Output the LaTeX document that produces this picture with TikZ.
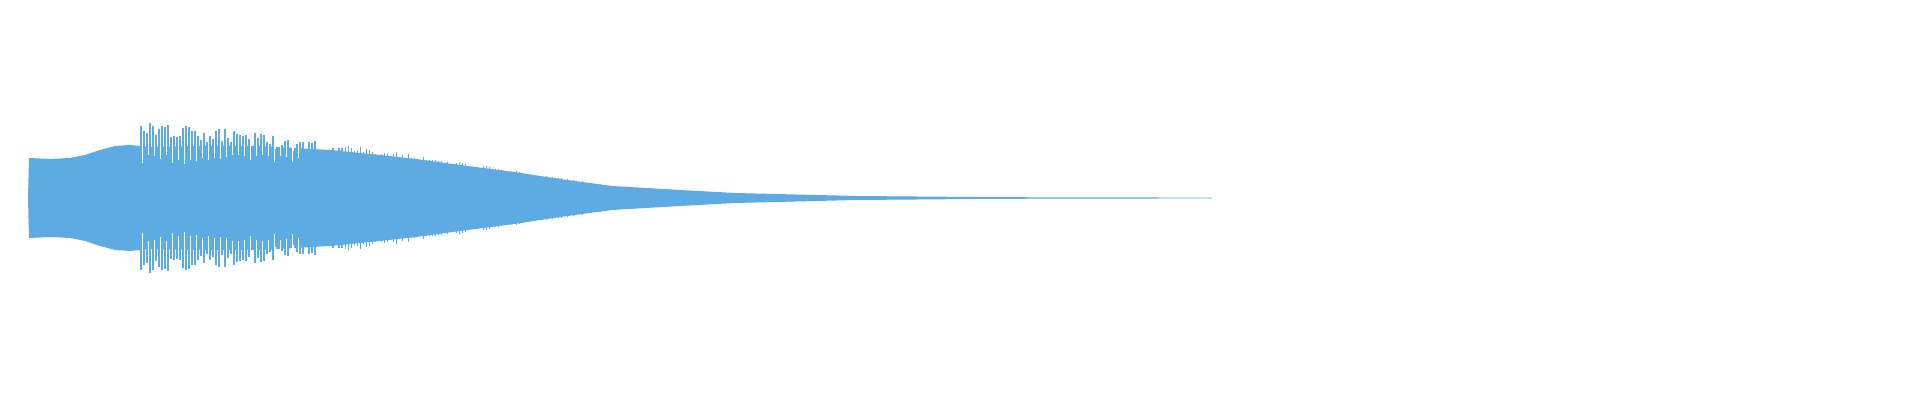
\documentclass[tikz,border=0pt]{standalone}
\definecolor{wave}{HTML}{5DABE2}
\begin{document}
\begin{tikzpicture}[x=0.5pt,y=-0.5pt]
  % styles
  \tikzset{envelope/.style={fill=wave,draw=none},
           spike/.style={draw=wave,line width=0.8pt},
           notch/.style={draw=white,line width=0.6pt}}
  \useasboundingbox (0,0) rectangle (1920,400);
  \pgfmathsetseed{7}
  % envelope of the signal
  \path[envelope] (28,198) -- (29,158) -- (50,159) -- (70,158) -- (85,155) -- (100,150) -- (115,146) -- (130,145) -- (150,147)
    -- (200,146) -- (260,146) -- (330,150) -- (380,155) -- (416,159) -- (460,165) -- (514,172) -- (560,179) -- (612,186)
    -- (680,190) -- (735,193) -- (857,196) -- (1000,197.2) -- (1212,197.6)
    -- (1212,198.4) -- (1000,198.8) -- (857,200) -- (735,203) -- (680,206) -- (612,210) -- (560,217) -- (514,224)
    -- (460,231) -- (416,237) -- (380,241) -- (330,246) -- (260,250) -- (200,250) -- (150,249) -- (130,251) -- (115,250)
    -- (100,246) -- (85,241) -- (70,238) -- (50,237) -- (29,238) -- cycle;
  % inward dips
  \foreach \i in {143,149,...,300} {
    \pgfmathsetmacro{\dip}{8+10*rnd}
    \draw[notch] (\i,146) -- (\i,{146+\dip});
    \draw[notch] (\i,250) -- (\i,{250-\dip});
  }
  % spikes
  \foreach \i in {141,144,...,345} {
    \pgfmathsetmacro{\amp}{(\i<240 ? 76-0.08*(\i-141) : 68-0.15*(\i-240))*(0.78+0.22*rnd)}
    \draw[spike] (\i,{198-\amp}) -- (\i,{198+\amp});
  }
  \foreach \i in {345,348,...,620} {
    \pgfmathsetmacro{\amp}{(52-0.15*(\i-345))*(0.92+0.12*rnd)}
    \draw[spike,line width=0.5pt] (\i,{198-\amp}) -- (\i,{198+\amp});
  }
\end{tikzpicture}
\end{document}
